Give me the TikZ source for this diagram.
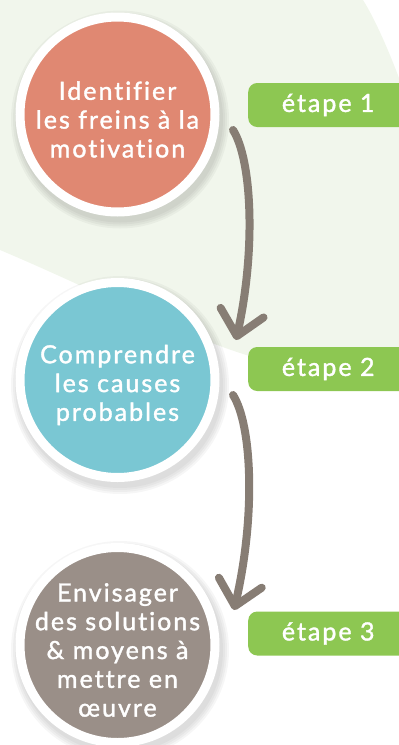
\documentclass[tikz,border=0pt]{standalone}
\usepackage{fontspec}
\setmainfont{Lato}[Ligatures=NoCommon, LetterSpace=8, FakeBold=1.5]
\usetikzlibrary{arrows.meta}
\definecolor{bggreen}{HTML}{F1F6EC}
\definecolor{salmon}{HTML}{E08872}
\definecolor{skyblue}{HTML}{7AC7D3}
\definecolor{taupe}{HTML}{9A8F88}
\definecolor{taggreen}{HTML}{8DC752}
\definecolor{arrowbrown}{HTML}{877D74}

\begin{document}
\begin{tikzpicture}[x=1pt, y=-1pt, stepcircle/.style = {circle, draw=white, line width=9pt, minimum size=195pt, inner sep=0pt}, steptext/.style = {align=center, text=white, font=\fontsize{25}{28.8}\selectfont}, steptag/.style = {rectangle, rounded corners=9pt, fill=taggreen, minimum width=160pt, minimum height=44pt, anchor=west, text=white, font=\fontsize{25}{26}\selectfont}, curvearrow/.style = {draw=arrowbrown, line width=8pt, line cap=round, -{Straight Barb[length=24pt, width=44pt, round]}}]
  \useasboundingbox (0,0) rectangle (399,745);

  % background blob
  \begin{scope}
    \clip (0,0) rectangle (399,745);
    \fill[bggreen] (0,0) -- (363,0) .. controls (395,50) and (470,250) .. (440,360) .. controls (400,390) and (310,376) .. (240,353) .. controls (170,330) and (90,288) .. (0,250) -- cycle;
  \end{scope}

  % soft shadows
  \foreach \cy in {114.5, 380, 645} {
    \foreach \r in {109, 107, 105, 103} {
      \fill[black, opacity=0.035] (120, \cy+5) circle (\r pt);
    }
  }

  % step 1
  \node[stepcircle, fill=salmon] (identify) at (117.5,114.5) {};
  \node[steptext] (identify text) at ([yshift=-5pt]identify.center) {Identifier\\les freins à la\\motivation};
  \node[steptag] (tag1) at (248,105) {étape 1};

  % step 2
  \node[stepcircle, fill=skyblue] (understand) at (117.5,380) {};
  \node[steptext] (understand text) at ([yshift=-5pt]understand.center) {Comprendre\\les causes\\probables};
  \node[steptag] (tag2) at (248,369) {étape 2};

  % step 3
  \node[stepcircle, fill=taupe] (solutions) at (117.5,645) {};
  \node[steptext] (solutions text) at ([yshift=-5pt]solutions.center) {Envisager\\des solutions\\\& moyens à\\mettre en\\œuvre};
  \node[steptag] (tag3) at (248,633.5) {étape 3};

  % arrows
  \coordinate (a1start) at (233,130);
  \coordinate (a1end) at (236,340);
  \coordinate (a2start) at (233,395);
  \coordinate (a2end) at (234,610);
  \draw[curvearrow] (a1start) .. controls (252,160) and (256,250) .. (a1end);
  \draw[curvearrow] (a2start) .. controls (252,425) and (256,515) .. (a2end);

\end{tikzpicture}
\end{document}
